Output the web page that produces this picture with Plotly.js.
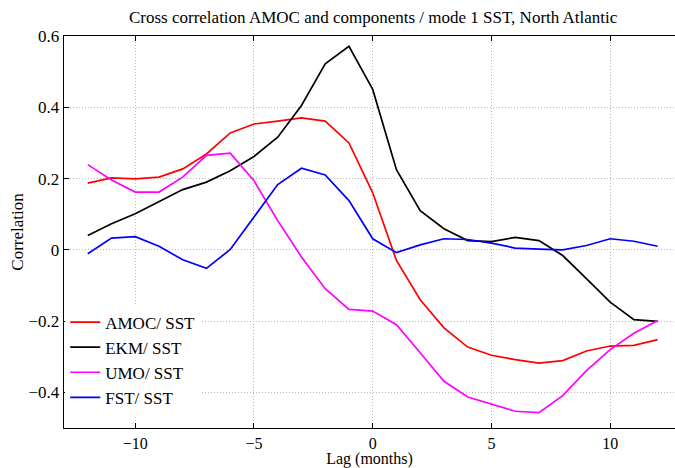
<!DOCTYPE html>
<html>
<head>
<meta charset="utf-8">
<script src="https://cdn.plot.ly/plotly-3.0.1.min.js"></script>
<style>
  html, body { margin: 0; padding: 0; background: #fff; }
  #chart { width: 675px; height: 468px; }
</style>
</head>
<body>
<div id="chart"></div>
<script>
// Lag in months
const lags = [-12, -11, -10, -9, -8, -7, -6, -5, -4, -3, -2, -1, 0,
              1, 2, 3, 4, 5, 6, 7, 8, 9, 10, 11, 12];

// Cross correlation of each transport component with mode 1 SST
const amocSst = [0.187, 0.202, 0.199, 0.204, 0.227, 0.269, 0.328, 0.353, 0.361, 0.370, 0.361, 0.300, 0.160,
                 -0.030, -0.140, -0.219, -0.273, -0.296, -0.308, -0.318, -0.311, -0.284, -0.270, -0.268, -0.252];
const ekmSst  = [0.040, 0.073, 0.101, 0.136, 0.169, 0.190, 0.222, 0.262, 0.316, 0.405, 0.522, 0.571, 0.450,
                 0.225, 0.110, 0.059, 0.026, 0.023, 0.035, 0.026, -0.016, -0.081, -0.147, -0.196, -0.201];
const umoSst  = [0.239, 0.196, 0.162, 0.162, 0.204, 0.265, 0.271, 0.194, 0.082, -0.020, -0.109, -0.167, -0.172,
                 -0.210, -0.289, -0.369, -0.413, -0.432, -0.453, -0.457, -0.409, -0.339, -0.280, -0.234, -0.198];
const fstSst  = [-0.011, 0.033, 0.037, 0.010, -0.028, -0.052, 0.001, 0.092, 0.183, 0.229, 0.210, 0.138, 0.031,
                 -0.008, 0.014, 0.031, 0.029, 0.019, 0.005, 0.002, 0.000, 0.012, 0.031, 0.024, 0.010];

const seriesNames = ['AMOC/ SST', 'EKM/ SST', 'UMO/ SST', 'FST/ SST'];
const seriesValues = [amocSst, ekmSst, umoSst, fstSst];
const seriesColors = ['#ff0000', '#000000', '#ff00ff', '#0000ff'];

const yTicks = [0.6, 0.4, 0.2, 0, -0.2, -0.4];
const xTicks = [-10, -5, 0, 5, 10];

const serif = 'Liberation Serif, Times New Roman, serif';

const traces = seriesNames.map((name, i) => ({
  x: lags,
  y: seriesValues[i],
  name: name,
  type: 'scatter',
  mode: 'lines',
  legendgroup: 'g' + i,
  line: { color: seriesColors[i], width: 1.7 }
}));

const layout = {
  width: 675,
  height: 468,
  paper_bgcolor: '#ffffff',
  plot_bgcolor: '#ffffff',
  margin: { l: 64, r: 0, t: 36, b: 40, pad: 0 },
  font: { family: serif, size: 17, color: '#000' },
  title: {
    text: 'Cross correlation AMOC and components / mode 1 SST, North Atlantic',
    font: { family: serif, size: 17, color: '#000' },
    xref: 'paper', x: 0.506, xanchor: 'center',
    yref: 'container', y: 1 - 17 / 468, yanchor: 'middle'
  },
  xaxis: {
    range: [-13, 12.73],
    tickvals: xTicks,
    ticks: 'inside',
    ticklen: 5,
    tickcolor: '#000',
    showline: true,
    linecolor: '#000',
    linewidth: 1.3,
    mirror: 'ticks',
    showgrid: true,
    gridcolor: '#b8b8b8',
    griddash: '1px,2px',
    gridwidth: 1,
    zeroline: false,
    tickfont: { family: serif, size: 16 },
    title: { text: 'Lag (months)', font: { family: serif, size: 16 }, standoff: 1 }
  },
  yaxis: {
    range: [-0.5, 0.6],
    tickvals: yTicks,
    ticks: 'inside',
    ticklen: 5,
    tickcolor: '#000',
    showline: true,
    linecolor: '#000',
    linewidth: 1.3,
    mirror: false,
    showgrid: true,
    gridcolor: '#b8b8b8',
    griddash: '1px,2px',
    gridwidth: 1,
    zeroline: false,
    tickfont: { family: serif, size: 17 },
    title: { text: 'Correlation', font: { family: serif, size: 17 }, standoff: 0 }
  },
  showlegend: true,
  legend: {
    x: 0.002, xanchor: 'left',
    y: 0.315, yanchor: 'top',
    bgcolor: '#ffffff',
    borderwidth: 0,
    tracegroupgap: 0,
    font: { family: serif, size: 17, color: '#000' }
  }
};

Plotly.newPlot('chart', traces, layout, { displayModeBar: false, staticPlot: true });
</script>
</body>
</html>
